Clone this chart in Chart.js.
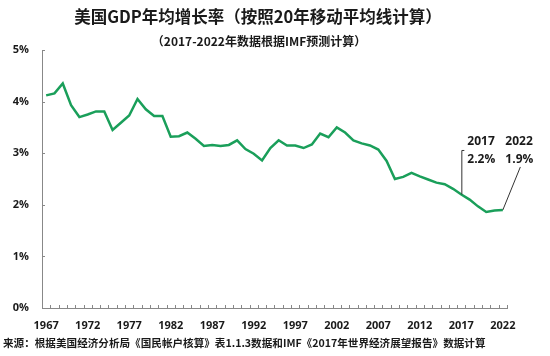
<!DOCTYPE html>
<html>
<head>
<meta charset="utf-8">
<script src="https://cdn.jsdelivr.net/npm/chart.js@4/dist/chart.umd.min.js"></script>
<style>
html,body{margin:0;padding:0;background:#fff;}
#wrap{width:550px;height:356px;position:relative;}
</style>
</head>
<body>
<div id="wrap"><canvas id="c" width="550" height="356"></canvas></div>
<script>
const years = [1967,1968,1969,1970,1971,1972,1973,1974,1975,1976,1977,1978,1979,1980,1981,1982,1983,1984,1985,1986,1987,1988,1989,1990,1991,1992,1993,1994,1995,1996,1997,1998,1999,2000,2001,2002,2003,2004,2005,2006,2007,2008,2009,2010,2011,2012,2013,2014,2015,2016,2017,2018,2019,2020,2021,2022];
const growthRate = [4.12,4.16,4.35,3.93,3.70,3.75,3.81,3.81,3.45,3.59,3.73,4.05,3.85,3.72,3.72,3.32,3.33,3.40,3.28,3.14,3.16,3.14,3.16,3.25,3.08,2.99,2.86,3.10,3.25,3.15,3.15,3.10,3.17,3.38,3.31,3.50,3.40,3.25,3.19,3.15,3.07,2.85,2.50,2.54,2.62,2.55,2.49,2.43,2.40,2.31,2.20,2.10,1.97,1.86,1.89,1.90];
const yTicks = [0,1,2,3,4,5];
const titleText = '美国GDP年均增长率（按照20年移动平均线计算）';
const subtitleText = '（2017-2022年数据根据IMF预测计算）';
const sourceText = '来源：根据美国经济分析局《国民帐户核算》表1.1.3数据和IMF《2017年世界经济展望报告》数据计算';
const callouts = [
  {year: 2017, label: '2017', value: '2.2%'},
  {year: 2022, label: '2022', value: '1.9%'}
];

const CJK = '"Noto Sans CJK SC", "Open Sans", sans-serif';
const LAT = '"Open Sans", "Noto Sans CJK SC", sans-serif';

const decor = {
  id: 'decor',
  afterDraw(chart) {
    const ctx = chart.ctx;
    const xs = chart.scales.x, ys = chart.scales.y;
    const area = chart.chartArea;
    ctx.save();
    // inward tick marks
    ctx.strokeStyle = '#888';
    ctx.lineWidth = 1;
    const n = years.length;
    const step = (xs.getPixelForValue(1) - xs.getPixelForValue(0));
    ctx.beginPath();
    for (let i = 0; i <= n; i++) {
      const x = Math.round(xs.getPixelForValue(0) - step/2 + i*step) + 0.5;
      ctx.moveTo(x, area.bottom);
      ctx.lineTo(x, area.bottom - 3);
    }
    yTicks.forEach(v => {
      const y = Math.round(ys.getPixelForValue(v)) + 0.5;
      ctx.moveTo(area.left, y);
      ctx.lineTo(area.left + 3, y);
    });
    ctx.stroke();

    // titles
    ctx.fillStyle = '#1a1a1a';
    ctx.textAlign = 'center';
    ctx.textBaseline = 'middle';
    ctx.font = 'bold 16.5px ' + CJK;
    ctx.fillText(titleText, 258, 17);
    ctx.font = 'bold 12px ' + CJK;
    ctx.fillText(subtitleText, 259, 41);

    // source
    ctx.textAlign = 'left';
    ctx.font = 'bold 10.6px ' + CJK;
    ctx.fillText(sourceText, 3, 343);

    // callouts
    const meta = chart.getDatasetMeta(0);
    ctx.strokeStyle = '#333';
    ctx.lineWidth = 1;
    ctx.font = 'bold 12px ' + LAT;
    ctx.fillStyle = '#1a1a1a';
    callouts.forEach((c, k) => {
      const idx = years.indexOf(c.year);
      const p = meta.data[idx];
      ctx.beginPath();
      if (k === 0) {
        ctx.moveTo(p.x + 0.5, p.y);
        ctx.lineTo(p.x + 0.5, p.y - 44);
        ctx.lineTo(p.x + 3, p.y - 44);
        ctx.stroke();
        ctx.fillText(c.label, p.x + 6, p.y - 53);
        ctx.fillText(c.value, p.x + 6, p.y - 35);
      } else {
        ctx.moveTo(p.x, p.y);
        ctx.lineTo(p.x + 17.5, p.y - 43);
        ctx.stroke();
        ctx.fillText(c.label, p.x + 2.5, p.y - 68);
        ctx.fillText(c.value, p.x + 2.5, p.y - 50);
      }
    });
    ctx.restore();
  }
};

new Chart(document.getElementById('c'), {
  type: 'line',
  data: {
    labels: years,
    datasets: [{
      data: growthRate,
      borderColor: '#1a9f5a',
      borderWidth: 2.5,
      pointRadius: 0,
      tension: 0,
      fill: false
    }]
  },
  options: {
    responsive: false,
    animation: false,
    devicePixelRatio: 1,
    layout: { padding: { top: 50, right: 43, bottom: 18, left: 0 } },
    plugins: { legend: { display: false }, tooltip: { enabled: false }, title: { display: false } },
    scales: {
      x: {
        type: 'category',
        offset: true,
        grid: { display: true, drawOnChartArea: false, drawTicks: false, offset: true, color: 'rgba(0,0,0,0)' },
        border: { display: true, color: '#888', width: 1 },
        ticks: {
          autoSkip: false, maxRotation: 0, minRotation: 0, padding: 11,
          color: '#1a1a1a', font: { family: LAT, size: 11, weight: 'bold' },
          callback: function(v, i) { const y = years[i]; return (y - 1967) % 5 === 0 ? String(y) : ''; }
        },
        afterFit: s => { s.height = 30; }
      },
      y: {
        min: 0, max: 5,
        grid: { display: true, drawOnChartArea: false, drawTicks: false, color: 'rgba(0,0,0,0)' },
        border: { display: true, color: '#888', width: 1 },
        ticks: {
          stepSize: 1, padding: 13, color: '#1a1a1a',
          font: { family: LAT, size: 11, weight: 'bold' },
          callback: v => v + '%'
        },
        afterFit: s => { s.width = 42; }
      }
    }
  },
  plugins: [decor]
});
</script>
</body>
</html>
